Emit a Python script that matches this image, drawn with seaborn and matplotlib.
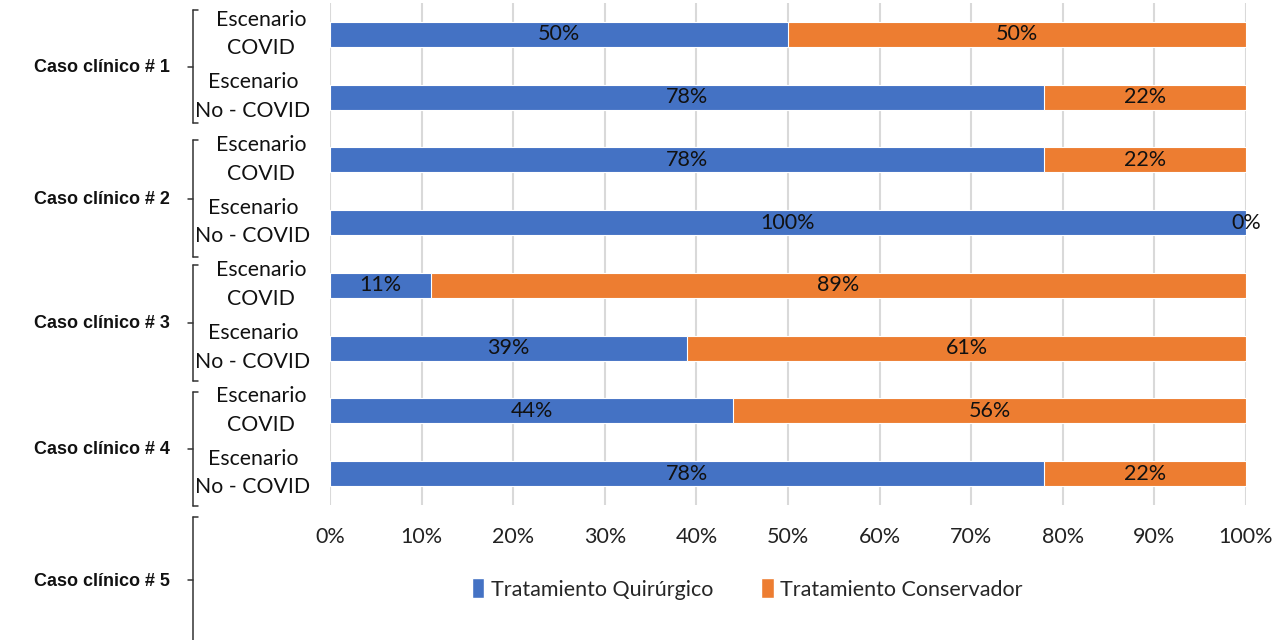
import matplotlib
matplotlib.use("Agg")
import matplotlib.pyplot as plt
from matplotlib.patches import Patch
from matplotlib.lines import Line2D
import seaborn as sns
import pandas as pd

# Survey results per clinical case and scenario (percent of responses)
casos = ["Caso clínico # 1", "Caso clínico # 2", "Caso clínico # 3",
         "Caso clínico # 4", "Caso clínico # 5"]
escenarios = ["Escenario\nCOVID", "Escenario\nNo - COVID"]
filas = ["C1 COVID", "C1 No-COVID", "C2 COVID", "C2 No-COVID",
         "C3 COVID", "C3 No-COVID", "C4 COVID", "C4 No-COVID"]
quirurgico = [50, 78, 78, 100, 11, 39, 44, 78]
conservador = [50, 22, 22, 0, 89, 61, 56, 22]
ticks_x = [0, 10, 20, 30, 40, 50, 60, 70, 80, 90, 100]
serie_q = "Tratamiento Quirúrgico"
serie_c = "Tratamiento Conservador"

AZUL = "#4472C4"
NARANJA = "#ED7D31"

sns.set_theme(style="white")
plt.rcParams["font.family"] = ["Lato", "DejaVu Sans"]

df = pd.DataFrame({"fila": filas, "q": quirurgico, "c": conservador})
df["total"] = df["q"] + df["c"]

W, H = 1286, 640
fig = plt.figure(figsize=(W / 100, H / 100), dpi=100)
ax = fig.add_axes([330 / W, 1 - 505 / H, (1246 - 330) / W, (505 - 3) / H])

# stacked horizontal bars: full-length orange first, blue share on top
sns.barplot(data=df, y="fila", x="total", color=NARANJA, orient="h",
            width=0.4, edgecolor="white", linewidth=0.8, saturation=1, ax=ax)
sns.barplot(data=df, y="fila", x="q", color=AZUL, orient="h",
            width=0.4, edgecolor="white", linewidth=0.8, saturation=1, ax=ax)

ax.set_xlim(0, 100)
ax.set_ylim(len(filas) - 0.5, -0.5)
ax.set_xticks(ticks_x)
ax.set_xticklabels([f"{t}%" for t in ticks_x], fontsize=15.5, color="#222222")
ax.tick_params(axis="x", length=0, pad=16)
ax.set_yticks([])
ax.set_xlabel("")
ax.set_ylabel("")
for s in ax.spines.values():
    s.set_visible(False)
ax.grid(axis="x", color="#d9d9d9", linewidth=1.5)
ax.set_axisbelow(True)

# value labels centred in each segment
for i, (q, c) in enumerate(zip(quirurgico, conservador)):
    ax.text(q / 2, i, f"{q}%", ha="center", va="center", fontsize=15.5,
            color="#111111")
    ax.text(q + c / 2, i, f"{c}%", ha="center", va="center", fontsize=15.5,
            color="#111111")

fig_tr = fig.transFigure
def fx(px):
    return px / W
def fy(py):
    return 1 - py / H

# scenario labels next to each bar
row_px = [34 + i * 62.7 for i in range(len(filas))]
for i, yp in enumerate(row_px):
    cx = 261 if i % 2 == 0 else 253
    fig.text(fx(cx), fy(yp), escenarios[i % 2], ha="center", va="center",
             fontsize=15.3, linespacing=1.55, color="#111111")

# case brackets and labels
grupos = [(10, 123), (140, 257), (265, 381), (392, 506), (517, 645)]
for caso, (y0, y1) in zip(casos, grupos):
    ym = (y0 + y1) / 2 if y1 < 640 else 580
    bx = 193
    line_kw = dict(color="#333333", linewidth=1.1, transform=fig_tr)
    fig.add_artist(Line2D([fx(bx), fx(bx)], [fy(y0), fy(y1)], **line_kw))
    fig.add_artist(Line2D([fx(bx), fx(bx + 5)], [fy(y0), fy(y0)], **line_kw))
    if y1 < 640:
        fig.add_artist(Line2D([fx(bx), fx(bx + 5)], [fy(y1), fy(y1)], **line_kw))
    fig.add_artist(Line2D([fx(bx - 5), fx(bx)], [fy(ym), fy(ym)], **line_kw))
    fig.text(fx(170), fy(ym + 1), caso, ha="right", va="center",
             fontsize=13, fontweight="bold", family="Liberation Sans",
             color="#111111")

handles = [Patch(facecolor=AZUL, label=serie_q),
           Patch(facecolor=NARANJA, label=serie_c)]
fig.legend(handles=handles, loc="center", bbox_to_anchor=(fx(747), fy(589)),
           ncol=2, frameon=False, fontsize=15.5, handlelength=0.6,
           handleheight=1.0, handletextpad=0.3, columnspacing=2.2)

fig.savefig("out.png", dpi=100)
